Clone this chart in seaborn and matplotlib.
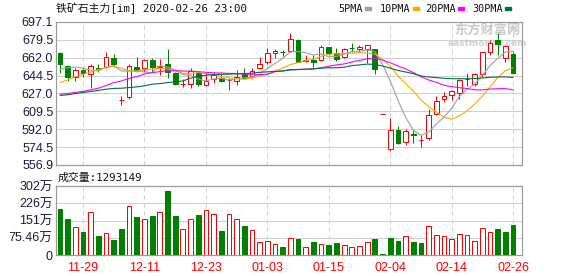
import matplotlib
matplotlib.use("Agg")
import matplotlib.pyplot as plt
import seaborn as sns
import numpy as np

# ---------------- data ----------------
dates = ["11-26", "11-27", "11-28", "11-29",
         "12-02", "12-03", "12-04", "12-05", "12-06",
         "12-09", "12-10", "12-11", "12-12", "12-13",
         "12-16", "12-17", "12-18", "12-19", "12-20",
         "12-23", "12-24", "12-25", "12-26", "12-27",
         "12-30", "12-31", "01-02", "01-03",
         "01-06", "01-07", "01-08", "01-09", "01-10",
         "01-13", "01-14", "01-15", "01-16", "01-17",
         "01-20", "01-21", "01-22", "01-23",
         "02-03", "02-04", "02-05", "02-06", "02-07",
         "02-10", "02-11", "02-12", "02-13", "02-14",
         "02-17", "02-18", "02-19", "02-20", "02-21",
         "02-24", "02-25", "02-26"]

open_ = [667.0, 654.3, 643.6, 650.0, 646.2, 651.7, 652.6, 662.0, 620.5, 623.1,
         653.3, 651.7, 659.8, 653.3, 655.6, 646.8, 636.0, 636.4, 646.8, 635.5,
         641.3, 641.9, 640.0, 639.3, 645.8, 644.2, 651.7, 657.5, 666.3, 668.0,
         668.5, 679.3, 658.8, 660.1, 659.8, 672.8, 666.9, 663.0, 672.0, 671.1,
         671.1, 670.5, 607.2, 572.2, 591.0, 579.3, 587.0, 581.6, 582.9, 606.9,
         621.8, 625.1, 627.3, 641.5, 636.1, 645.8, 667.9, 679.3, 662.1, 665.6]
high = [668.0, 655.0, 651.7, 651.7, 655.9, 655.6, 667.9, 665.6, 625.0, 655.9,
        663.0, 660.4, 662.0, 660.4, 670.2, 647.8, 641.3, 652.3, 648.4, 648.4,
        648.4, 645.8, 641.9, 650.0, 652.3, 651.7, 663.0, 671.8, 670.5, 669.5,
        686.4, 680.2, 664.7, 664.7, 674.4, 673.0, 671.8, 671.8, 676.7, 674.4,
        674.4, 671.1, 607.2, 603.0, 595.5, 592.3, 591.6, 586.1, 612.1, 624.1,
        628.3, 630.6, 641.3, 646.8, 647.5, 667.9, 679.3, 686.4, 675.0, 667.9]
low = [646.8, 639.7, 639.7, 643.6, 632.2, 647.8, 651.7, 653.3, 616.0, 621.8,
       647.8, 647.8, 647.8, 645.2, 642.0, 635.5, 633.2, 632.2, 634.5, 634.8,
       637.1, 638.7, 630.6, 635.5, 641.9, 642.6, 651.0, 655.6, 662.0, 664.0,
       667.9, 657.5, 658.2, 652.6, 659.1, 664.7, 658.8, 662.0, 667.9, 667.9,
       656.5, 645.8, 607.2, 570.6, 577.0, 576.1, 578.7, 574.4, 581.9, 605.6,
       618.3, 620.2, 621.8, 634.8, 634.8, 643.6, 664.7, 664.7, 657.5, 646.8]
close = [655.6, 642.9, 650.0, 646.8, 654.3, 651.1, 663.0, 655.6, 621.0, 654.3,
         650.0, 659.8, 652.6, 654.3, 647.8, 636.1, 636.5, 649.1, 636.1, 639.3,
         645.2, 639.7, 640.5, 643.6, 642.6, 649.1, 655.9, 666.3, 668.5, 667.6,
         680.2, 658.2, 659.8, 658.2, 672.4, 666.3, 660.4, 670.2, 671.8, 672.8,
         674.4, 650.7, 607.2, 591.6, 578.7, 590.7, 586.8, 581.9, 606.2, 619.9,
         624.1, 629.6, 640.3, 641.3, 646.2, 667.2, 676.7, 675.4, 673.7, 647.5]

ma5 = [650.7, 652.3, 653.0, 651.7, 649.9, 649.0, 653.0, 654.2, 649.0, 649.0,
       648.8, 648.1, 647.5, 654.2, 652.9, 650.1, 645.5, 644.8, 641.1, 639.4,
       641.2, 641.9, 640.2, 641.7, 642.3, 643.1, 646.3, 651.5, 656.5, 661.5,
       667.7, 668.2, 666.9, 664.8, 665.8, 663.0, 663.4, 665.5, 668.2, 668.3,
       669.9, 668.0, 655.4, 639.3, 620.5, 603.8, 591.0, 585.9, 588.9, 597.1,
       603.8, 612.3, 624.0, 631.0, 636.3, 644.9, 654.3, 661.4, 667.8, 668.1]
ma10 = [637.7, 640.3, 643.5, 645.8, 648.0, 650.5, 652.3, 654.0, 651.5, 649.5,
        648.9, 650.6, 650.9, 651.6, 651.0, 649.5, 646.8, 646.2, 647.7, 646.2,
        645.7, 643.7, 642.5, 641.4, 640.9, 642.2, 644.1, 645.8, 649.1, 651.9,
        655.4, 657.3, 659.2, 660.6, 663.6, 665.3, 665.8, 666.2, 666.5, 667.0,
        666.5, 665.7, 660.4, 653.8, 644.4, 636.9, 629.5, 620.7, 614.1, 608.8,
        603.8, 601.7, 605.0, 610.0, 616.7, 624.4, 633.3, 642.7, 649.4, 652.2]
ma20 = [626.4, 627.0, 628.0, 629.0, 630.6, 632.2, 634.8, 637.7, 639.3, 641.9,
        643.6, 646.2, 647.5, 648.4, 649.4, 649.4, 649.0, 649.0, 648.4, 647.8,
        647.3, 647.1, 646.7, 646.5, 645.9, 645.8, 645.5, 646.0, 648.4, 649.0,
        650.5, 650.5, 650.8, 651.0, 652.2, 653.8, 655.0, 656.0, 657.8, 659.5,
        660.9, 661.5, 659.8, 657.2, 654.0, 651.1, 647.6, 643.4, 640.3, 637.9,
        635.1, 633.7, 632.7, 631.9, 630.6, 630.6, 631.4, 631.7, 631.8, 630.5]
ma30 = [625.1, 625.7, 627.0, 628.0, 629.0, 630.0, 631.2, 632.0, 632.2, 632.8,
        633.5, 634.5, 636.1, 636.7, 637.7, 638.5, 639.3, 642.0, 644.0, 645.0,
        645.5, 645.8, 646.0, 646.2, 646.5, 647.0, 647.8, 648.2, 648.7, 649.2,
        650.0, 650.5, 650.8, 651.2, 651.8, 652.3, 652.2, 652.7, 654.4, 655.0,
        655.8, 655.5, 654.0, 651.9, 649.6, 648.1, 646.5, 644.2, 643.2, 642.6,
        641.9, 641.5, 641.5, 641.5, 641.6, 642.2, 642.9, 643.2, 643.3, 642.7]

# volume in units of 万 (10k)
volume = [200.2, 156.7, 120.4, 100.1, 190.1, 82.7, 94.3, 65.3, 113.2, 213.3,
          165.4, 155.3, 169.8, 190.1, 278.6, 169.8, 111.7, 159.6, 174.1, 198.8,
          178.5, 104.5, 178.5, 159.6, 126.2, 107.4, 56.6, 60.9, 47.9, 34.8,
          72.6, 69.6, 33.4, 56.6, 47.9, 43.5, 52.2, 42.1, 33.4, 37.7,
          56.6, 69.6, 4.4, 74.0, 60.9, 81.3, 56.6, 52.2, 124.8, 85.6,
          81.3, 69.6, 90.0, 85.6, 60.9, 116.1, 100.1, 113.2, 100.1, 129.3]
vol_dir = list("DDUDUDUDDU" "DUDUDDUUDU" "UDUUDUUUUD"
               "UDUDUDDUUU" "UDDDDUDDUU" "UUUUUUUDDD")

x_labels = ["11-29", "12-11", "12-23", "01-03", "01-15", "02-04", "02-14", "02-26"]
price_ticks = [556.9, 574.5, 592.0, 609.5, 627.0, 644.5, 662.0, 679.5, 697.1]
price_tick_labels = ["556.9", "574.5", "592.0", "609.5", "627.0", "644.5", "662.0", "679.5", "697.1"]
vol_ticks = [0, 75.46, 150.92, 226.38, 301.84]
vol_tick_labels = ["0", "75.46万", "151万", "226万", "302万"]

title = "铁矿石主力[im] 2020-02-26 23:00"
vol_title = "成交量:1293149"
ma_names = ["5PMA", "10PMA", "20PMA", "30PMA"]

# ---------------- style ----------------
sns.set_theme(style="white")
plt.rcParams['font.family'] = ['Liberation Sans', 'Noto Sans CJK SC', 'DejaVu Sans']

RED = "#ff0000"
GREEN = "#008000"
MA_COLORS = ["#a0a0a0", "#ffa500", "#ff00ff", "#006f3c"]
SPINE = "#9a9a9a"
GRID = "#cfcfcf"
TICKC = "#1c1c3a"
PX = 0.72  # one pixel in points at 100 dpi

W, H = 578, 276
fig = plt.figure(figsize=(W / 100, H / 100), dpi=100)
ax = fig.add_axes([56 / W, 1 - 165 / H, (522 - 56) / W, (165 - 22) / H])
axv = fig.add_axes([56 / W, 1 - 255 / H, (522 - 56) / W, (255 - 186) / H])

idx = np.arange(len(dates))
o = np.array(open_); c = np.array(close); h = np.array(high); l = np.array(low)
up = c >= o
colors = np.where(up, RED, GREEN)
bw = 0.62

# wicks
ax.vlines(idx, l, h, colors=colors, linewidth=PX, zorder=2)
# bodies
bottoms = np.minimum(o, c)
heights = np.maximum(np.abs(c - o), 0.01)
ax.bar(idx, heights, bottom=bottoms, width=bw,
       color=np.where(up, "white", GREEN), edgecolor=colors,
       linewidth=PX, zorder=3)

# moving averages
for vals, col in zip([ma5, ma10, ma20, ma30], MA_COLORS):
    sns.lineplot(x=idx, y=vals, ax=ax, color=col, linewidth=0.8, zorder=4)

# volume
vup = np.array([d == "U" for d in vol_dir])
vcol = np.where(vup, RED, GREEN)
axv.bar(idx, volume, width=bw, color=np.where(vup, "white", GREEN),
        edgecolor=vcol, linewidth=PX, zorder=3)

# ---------------- axes formatting ----------------
xlim = (-0.52, 60.16)
label_pos = [dates.index(d) for d in x_labels]
for a in (ax, axv):
    a.set_xlim(*xlim)
    a.set_xticks(label_pos)
    for s in a.spines.values():
        s.set_color(SPINE)
        s.set_linewidth(PX * 1.2)
    a.grid(axis="y", color=GRID, linewidth=PX, linestyle="-", zorder=0)
    a.grid(axis="x", color=GRID, linewidth=PX, linestyle=(0, (4, 4)), zorder=0)
    a.set_axisbelow(True)
    a.tick_params(length=0)
    a.set_xlabel("")
    a.set_ylabel("")

ax.set_ylim(556.9, 697.1)
ax.set_yticks(price_ticks)
ax.set_yticklabels(price_tick_labels, fontsize=9, color=TICKC)
ax.tick_params(axis="y", pad=2)
ax.set_xticklabels([])

axv.set_ylim(0, 301.84)
axv.set_yticks(vol_ticks)
axv.set_yticklabels(vol_tick_labels, fontsize=9, color=TICKC)
axv.tick_params(axis="y", pad=2.5)
axv.set_xticklabels(x_labels, fontsize=9, color=RED)
axv.tick_params(axis="x", pad=5)

# ---------------- texts ----------------
mono = ['DejaVu Sans Mono', 'Noto Sans CJK SC']
fig.text(56 / W, 1 - 8.5 / H, title, fontsize=7.8, family=mono,
         color="#111111", ha="left", va="center")
fig.text(58 / W, 1 - 177.5 / H, vol_title, fontsize=7.8, family=mono,
         color="#111111", ha="left", va="center")

legend_x = [338, 380, 425, 472]
swatch_x = [365, 413, 458, 505]
for name, tx, sx, col in zip(ma_names, legend_x, swatch_x, MA_COLORS):
    fig.text(tx / W, 1 - 8.5 / H, name, fontsize=7.3, family=['DejaVu Sans Mono'],
             color="#111111", ha="left", va="center")
    fig.patches.append(plt.Rectangle((sx / W, 1 - 10 / H), 6 / W, 3 / H,
                                     transform=fig.transFigure, color=col))

# watermark
ax.text(487 / W, 1 - 30 / H, "东方财富网", transform=fig.transFigure,
        fontsize=9.5, family=['Noto Sans CJK SC'], fontweight="bold",
        color="#bdbdbd", alpha=0.8, ha="center", va="center", zorder=1)
ax.text(487 / W, 1 - 43 / H, "eastmoney.com", transform=fig.transFigure,
        fontsize=6.5, family=['DejaVu Sans'], fontweight="bold",
        color="#c4c4c4", alpha=0.8, ha="center", va="center", zorder=1)

fig.savefig("out.png", dpi=100)
